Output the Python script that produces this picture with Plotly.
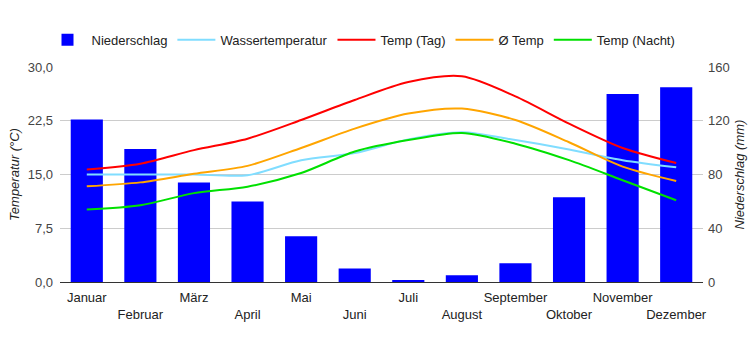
import plotly.graph_objects as go

months = ["Januar", "Februar", "März", "April", "Mai", "Juni", "Juli",
          "August", "September", "Oktober", "November", "Dezember"]
niederschlag = [121, 99, 74, 60, 34, 10, 1, 5, 14, 63, 140, 145]
wasser = [15.0, 15.0, 15.0, 14.9, 17.0, 18.0, 19.9, 20.9, 19.8, 18.5, 17.0, 16.0]
temp_tag = [15.7, 16.5, 18.4, 20.0, 22.6, 25.4, 27.9, 28.7, 25.9, 22.1, 18.7, 16.6]
temp_avg = [13.35, 13.9, 15.1, 16.2, 18.7, 21.4, 23.5, 24.2, 22.6, 19.5, 16.1, 14.1]
temp_nacht = [10.1, 10.7, 12.4, 13.3, 15.2, 18.2, 19.8, 20.8, 19.3, 17.0, 14.2, 11.4]

ticktext = [m if i % 2 == 0 else "<br>" + m for i, m in enumerate(months)]

fig = go.Figure()
fig.add_trace(go.Bar(x=months, y=niederschlag, name="Niederschlag",
                     marker=dict(color="#0000FF", line=dict(width=0)), yaxis="y"))
line_specs = [("Wassertemperatur", wasser, "#80DDFF"),
              ("Temp (Tag)", temp_tag, "#FF0000"),
              ("Ø Temp", temp_avg, "#FFA500"),
              ("Temp (Nacht)", temp_nacht, "#00E000")]
for name, vals, col in line_specs:
    fig.add_trace(go.Scatter(x=months, y=vals, name=name, mode="lines",
                             line=dict(color=col, width=2, shape="spline", smoothing=0.8),
                             yaxis="y2"))

fig.update_layout(
    width=750, height=350,
    margin=dict(l=60, r=47, t=67, b=68, autoexpand=False),
    paper_bgcolor="white", plot_bgcolor="white",
    font=dict(family="Liberation Sans, Arial, sans-serif", size=13, color="#222222"),
    separators=", ",
    bargap=0.4,
    showlegend=True,
    legend=dict(orientation="h", xref="container", yref="container",
                x=0.058, y=0.886, xanchor="left", yanchor="middle",
                font=dict(size=13, color="#222222"), itemwidth=38,
                traceorder="normal"),
    xaxis=dict(tickmode="array", tickvals=months, ticktext=ticktext, tickangle=0,
               showline=True, linecolor="#333333", linewidth=1,
               showgrid=False, ticks="", ticklabelstandoff=3,
               tickfont=dict(size=13, color="#222222")),
    yaxis=dict(side="right", range=[0, 160], tickvals=[0, 40, 80, 120, 160],
               showgrid=True, gridcolor="#CCCCCC", zeroline=False,
               title=dict(text="<i>Niederschlag (mm)</i>", standoff=6,
                          font=dict(size=13, color="#222222")),
               tickfont=dict(size=13, color="#444444"), ticklabelstandoff=4),
    yaxis2=dict(side="left", overlaying="y", range=[0, 30],
                tickvals=[0, 7.5, 15, 22.5, 30], tickformat=".1f",
                showgrid=False, zeroline=False,
                title=dict(text="<i>Temperatur (°C)</i>", standoff=5,
                           font=dict(size=13, color="#222222")),
                tickfont=dict(size=13, color="#444444"), ticklabelstandoff=6),
)

fig.write_html("out.html")
